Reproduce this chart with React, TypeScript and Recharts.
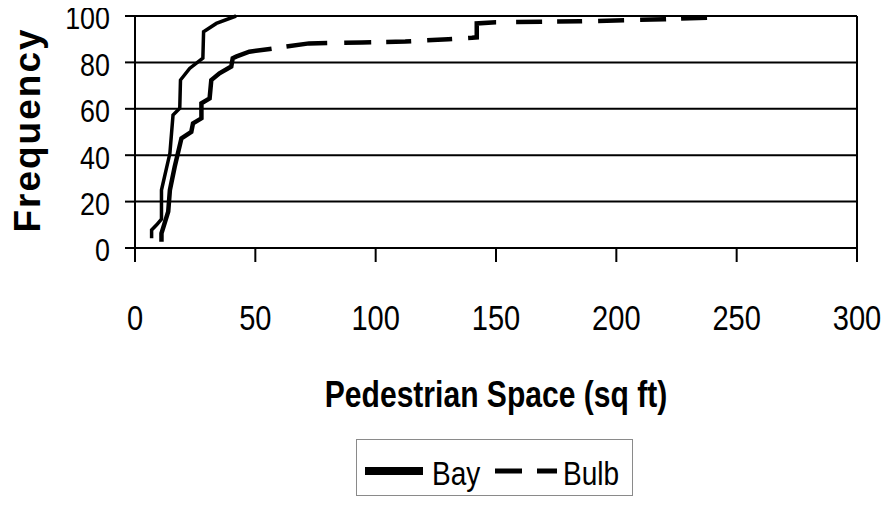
import React from 'react';
import { LineChart, Line, XAxis, YAxis, CartesianGrid, ReferenceLine, Legend } from 'recharts';

const xTicks = [0, 50, 100, 150, 200, 250, 300];
const yTicks = [0, 20, 40, 60, 80, 100];

const bayName = 'Bay';
const bayX = [6.9, 6.9, 9.0, 11.0, 11.0, 14.5, 15.8, 18.6, 18.9, 22.7, 28.2, 28.5, 33.8, 42.0];
const bayY = [4.2, 7.8, 10.0, 12.5, 25.0, 40.8, 57.3, 60.2, 72.4, 77.4, 81.8, 93.2, 96.8, 100];

const bulbName = 'Bulb';
const bulbX = [11.0, 11.0, 13.8, 14.5, 16.5, 19.3, 23.4, 24.1, 27.6, 27.6, 31.0, 31.7, 35.1, 40.0, 40.6, 42.0, 47.5, 56.0, 72.3, 94.3, 112.3, 130.2, 140.0, 142.0, 142.0, 150.0, 185.0, 220.0, 238.0];
const bulbY = [2.7, 6.3, 15.7, 25.0, 35.0, 47.3, 50.1, 53.7, 55.9, 62.4, 64.5, 72.4, 75.3, 78.2, 81.8, 82.5, 84.6, 85.8, 88.2, 88.6, 89.0, 90.0, 90.6, 90.8, 96.8, 97.3, 97.7, 98.6, 99.3];

const bayData = bayX.map((x, i) => ({ x, y: bayY[i] }));
const bulbData = bulbX.map((x, i) => ({ x, y: bulbY[i] }));

const font = "'Liberation Sans', Arial, Helvetica, sans-serif";

const bulbDash = '252 15 41 17 27 15 25 16 25 16 42 20 26 15 25 16 26 16 26 15 26 80';

const legendStyles: Record<string, { dash?: string; width: number; lineX: number; lineLen: number; textX: number }> = {
  Bay: { width: 8, lineX: 8, lineLen: 58, textX: 75 },
  Bulb: { dash: '27 15', width: 5, lineX: 138, lineLen: 62, textX: 206 },
};

function LegendContent(props: any) {
  const payload = props.payload || [];
  return (
    <svg width={277} height={57} style={{ display: 'block', overflow: 'visible' }}>
      <rect x={0.5} y={0.5} width={276} height={56} fill="#fff" stroke="#8a8a8a" strokeWidth={1} />
      {payload.map((p: any) => {
        const s = legendStyles[p.value];
        if (!s) return null;
        return (
          <g key={p.value}>
            <line x1={s.lineX + 1} x2={s.lineX + 1 + s.lineLen} y1={32} y2={32} stroke="#000" strokeWidth={s.width} strokeDasharray={s.dash} />
            <text transform={`translate(${s.textX + 1},46) scale(0.85,1)`} fontFamily={font} fontSize={33} fill="#000">{p.value}</text>
          </g>
        );
      })}
    </svg>
  );
}

function XTick(props: any) {
  const { x, y, payload } = props;
  return (
    <text transform={`translate(${x},${y}) scale(0.83,1)`} textAnchor="middle" dy="0.71em" fontFamily={font} fontSize={35} fill="#000">
      {payload.value}
    </text>
  );
}

function YTick(props: any) {
  const { x, y, payload } = props;
  return (
    <text transform={`translate(${x},${y + 2}) scale(0.84,1)`} textAnchor="end" dy="0.355em" fontFamily={font} fontSize={32} fill="#000">
      {payload.value}
    </text>
  );
}

export default function App() {
  return (
    <div style={{ position: 'relative', width: 881, height: 505, marginTop: -8, marginBottom: -8, background: '#fff' }}>
      <LineChart width={881} height={505} margin={{ top: 16, right: 32, bottom: 0, left: 0 }}>
        <CartesianGrid vertical={false} stroke="#000" strokeWidth={2} horizontalValues={yTicks} />
        <XAxis
          type="number"
          dataKey="x"
          domain={[0, 300]}
          ticks={xTicks}
          interval={0}
          allowDataOverflow
          height={257}
          tickSize={14}
          tickMargin={43}
          axisLine={{ stroke: '#000', strokeWidth: 2 }}
          tickLine={{ stroke: '#000', strokeWidth: 2 }}
          tick={<XTick />}
          label={(p: any) => {
            const vb = p.viewBox || {};
            const cx = vb.x + vb.width / 2;
            return (
              <text transform={`translate(${cx},407) scale(0.835,1)`} textAnchor="middle" fontFamily={font} fontWeight="bold" fontSize={36} fill="#000">
                Pedestrian Space (sq ft)
              </text>
            );
          }}
        />
        <YAxis
          type="number"
          dataKey="y"
          domain={[0, 100]}
          ticks={yTicks}
          interval={0}
          width={127}
          tickSize={10}
          tickMargin={15}
          axisLine={{ stroke: '#000', strokeWidth: 2 }}
          tickLine={{ stroke: '#000', strokeWidth: 2 }}
          tick={<YTick />}
          label={() => (
            <text x={32} y={130} transform="rotate(-90 32 130)" textAnchor="middle" fontFamily={font} fontWeight="bold" fontSize={37} letterSpacing={2} fill="#000">
              Frequency
            </text>
          )}
        />
        <ReferenceLine x={300} stroke="#000" strokeWidth={2} />
        <Line data={bayData} dataKey="y" name={bayName} type="linear" stroke="#000" strokeWidth={3.5} dot={false} isAnimationActive={false} />
        <Line data={bulbData} dataKey="y" name={bulbName} type="linear" stroke="#000" strokeWidth={4.5} strokeDasharray={bulbDash} dot={false} isAnimationActive={false} />
        <Legend
          layout="horizontal"
          verticalAlign="middle"
          align="center"
          content={<LegendContent />}
          wrapperStyle={{ top: 439, left: 348, width: 277, height: 57 }}
        />
      </LineChart>
    </div>
  );
}
